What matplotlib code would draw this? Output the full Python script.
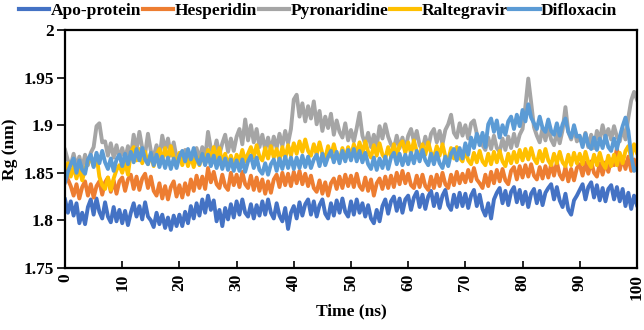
import matplotlib
matplotlib.use('Agg')
import matplotlib.pyplot as plt
import numpy as np

# Time axis: 0 .. 100 ns, every 0.5 ns
time_ns = np.arange(201) * 0.5

apo_protein = [
    1.822, 1.808, 1.820, 1.805, 1.818, 1.797, 1.808, 1.796, 1.814, 1.822, 1.806, 1.823, 1.809, 1.802, 1.819, 1.804, 1.798, 1.814, 1.799, 1.811,
    1.797, 1.810, 1.795, 1.808, 1.818, 1.804, 1.815, 1.801, 1.819, 1.804, 1.800, 1.793, 1.808, 1.796, 1.806, 1.792, 1.803, 1.790, 1.805, 1.794,
    1.806, 1.794, 1.809, 1.797, 1.815, 1.802, 1.818, 1.805, 1.822, 1.808, 1.826, 1.811, 1.821, 1.799, 1.811, 1.794, 1.813, 1.801, 1.817, 1.803,
    1.820, 1.806, 1.822, 1.808, 1.804, 1.817, 1.802, 1.816, 1.805, 1.820, 1.806, 1.822, 1.808, 1.802, 1.818, 1.805, 1.799, 1.813, 1.791, 1.808,
    1.815, 1.802, 1.819, 1.805, 1.817, 1.822, 1.806, 1.820, 1.804, 1.816, 1.822, 1.807, 1.802, 1.818, 1.805, 1.821, 1.808, 1.823, 1.809, 1.804,
    1.820, 1.806, 1.822, 1.808, 1.818, 1.804, 1.816, 1.802, 1.797, 1.811, 1.799, 1.815, 1.822, 1.807, 1.820, 1.825, 1.810, 1.823, 1.808, 1.822,
    1.826, 1.811, 1.824, 1.830, 1.814, 1.827, 1.812, 1.825, 1.831, 1.815, 1.828, 1.813, 1.826, 1.832, 1.816, 1.811, 1.827, 1.814, 1.829, 1.815,
    1.828, 1.813, 1.826, 1.832, 1.815, 1.827, 1.812, 1.805, 1.818, 1.802, 1.822, 1.829, 1.834, 1.818, 1.831, 1.816, 1.830, 1.835, 1.819, 1.832,
    1.817, 1.830, 1.814, 1.828, 1.833, 1.818, 1.831, 1.816, 1.829, 1.834, 1.838, 1.822, 1.835, 1.821, 1.814, 1.828, 1.811, 1.806, 1.821, 1.826,
    1.832, 1.838, 1.822, 1.835, 1.840, 1.824, 1.837, 1.821, 1.834, 1.820, 1.833, 1.837, 1.822, 1.835, 1.820, 1.833, 1.815, 1.829, 1.812, 1.826,
    1.816,
]

hesperidin = [
    1.854, 1.843, 1.836, 1.826, 1.838, 1.823, 1.835, 1.841, 1.826, 1.838, 1.824, 1.836, 1.841, 1.827, 1.840, 1.845, 1.830, 1.842, 1.828, 1.841,
    1.845, 1.831, 1.843, 1.848, 1.833, 1.846, 1.832, 1.844, 1.849, 1.834, 1.846, 1.831, 1.826, 1.839, 1.823, 1.836, 1.822, 1.835, 1.841, 1.825,
    1.837, 1.824, 1.839, 1.827, 1.843, 1.831, 1.847, 1.834, 1.846, 1.833, 1.855, 1.840, 1.851, 1.838, 1.834, 1.848, 1.836, 1.832, 1.850, 1.837,
    1.848, 1.835, 1.851, 1.838, 1.834, 1.847, 1.832, 1.845, 1.831, 1.843, 1.828, 1.841, 1.829, 1.843, 1.848, 1.835, 1.850, 1.837, 1.849, 1.836,
    1.851, 1.839, 1.852, 1.838, 1.849, 1.836, 1.847, 1.834, 1.830, 1.842, 1.828, 1.840, 1.826, 1.839, 1.844, 1.833, 1.846, 1.834, 1.848, 1.836,
    1.847, 1.835, 1.849, 1.836, 1.832, 1.845, 1.831, 1.843, 1.826, 1.839, 1.844, 1.833, 1.846, 1.834, 1.847, 1.835, 1.850, 1.838, 1.852, 1.839,
    1.849, 1.837, 1.834, 1.847, 1.835, 1.848, 1.836, 1.832, 1.846, 1.834, 1.848, 1.836, 1.850, 1.838, 1.834, 1.848, 1.837, 1.851, 1.839, 1.849,
    1.840, 1.853, 1.841, 1.855, 1.843, 1.839, 1.834, 1.848, 1.836, 1.851, 1.839, 1.853, 1.841, 1.854, 1.842, 1.838, 1.852, 1.856, 1.843, 1.857,
    1.845, 1.858, 1.846, 1.859, 1.847, 1.843, 1.856, 1.844, 1.857, 1.845, 1.859, 1.847, 1.861, 1.848, 1.843, 1.856, 1.841, 1.854, 1.842, 1.855,
    1.859, 1.847, 1.861, 1.849, 1.862, 1.850, 1.846, 1.860, 1.848, 1.861, 1.851, 1.864, 1.858, 1.876, 1.853, 1.866, 1.854, 1.867, 1.852, 1.864,
    1.856,
]

pyronaridine = [
    1.874, 1.863, 1.858, 1.870, 1.856, 1.867, 1.855, 1.869, 1.858, 1.871, 1.877, 1.899, 1.902, 1.882, 1.883, 1.868, 1.881, 1.866, 1.879, 1.865,
    1.876, 1.864, 1.878, 1.866, 1.890, 1.874, 1.893, 1.876, 1.870, 1.891, 1.873, 1.867, 1.879, 1.865, 1.889, 1.874, 1.886, 1.868, 1.882, 1.866,
    1.869, 1.861, 1.874, 1.862, 1.868, 1.860, 1.876, 1.864, 1.877, 1.865, 1.893, 1.875, 1.870, 1.884, 1.869, 1.881, 1.890, 1.872, 1.886, 1.873,
    1.888, 1.896, 1.880, 1.906, 1.884, 1.900, 1.882, 1.896, 1.877, 1.890, 1.874, 1.887, 1.873, 1.888, 1.876, 1.891, 1.878, 1.894, 1.881, 1.896,
    1.927, 1.932, 1.909, 1.923, 1.904, 1.920, 1.907, 1.925, 1.901, 1.915, 1.894, 1.909, 1.897, 1.912, 1.890, 1.905, 1.893, 1.887, 1.902, 1.884,
    1.895, 1.883, 1.897, 1.913, 1.889, 1.880, 1.892, 1.877, 1.890, 1.878, 1.899, 1.886, 1.901, 1.888, 1.880, 1.875, 1.889, 1.876, 1.887, 1.874,
    1.889, 1.896, 1.883, 1.894, 1.879, 1.874, 1.888, 1.876, 1.891, 1.896, 1.882, 1.894, 1.880, 1.895, 1.901, 1.911, 1.892, 1.887, 1.902, 1.889,
    1.900, 1.886, 1.902, 1.905, 1.891, 1.885, 1.879, 1.874, 1.887, 1.875, 1.889, 1.876, 1.872, 1.886, 1.874, 1.888, 1.876, 1.891, 1.878, 1.890,
    1.896, 1.920, 1.949, 1.924, 1.898, 1.889, 1.882, 1.897, 1.884, 1.898, 1.885, 1.879, 1.893, 1.881, 1.895, 1.919, 1.893, 1.885, 1.897, 1.883,
    1.887, 1.880, 1.892, 1.877, 1.890, 1.876, 1.894, 1.884, 1.900, 1.887, 1.896, 1.885, 1.899, 1.888, 1.883, 1.897, 1.885, 1.908, 1.926, 1.935,
    1.927,
]

raltegravir = [
    1.855, 1.860, 1.846, 1.857, 1.844, 1.855, 1.842, 1.854, 1.861, 1.866, 1.857, 1.869, 1.846, 1.837, 1.833, 1.845, 1.832, 1.844, 1.853, 1.858,
    1.850, 1.861, 1.848, 1.871, 1.877, 1.863, 1.875, 1.860, 1.872, 1.859, 1.870, 1.857, 1.869, 1.875, 1.863, 1.876, 1.865, 1.878, 1.866, 1.861,
    1.871, 1.858, 1.869, 1.857, 1.868, 1.856, 1.867, 1.858, 1.870, 1.859, 1.874, 1.863, 1.877, 1.865, 1.876, 1.859, 1.870, 1.857, 1.868, 1.856,
    1.869, 1.862, 1.874, 1.862, 1.870, 1.877, 1.866, 1.879, 1.867, 1.863, 1.876, 1.865, 1.878, 1.866, 1.875, 1.863, 1.877, 1.865, 1.879, 1.868,
    1.881, 1.870, 1.883, 1.872, 1.885, 1.873, 1.868, 1.880, 1.869, 1.882, 1.870, 1.865, 1.878, 1.867, 1.880, 1.868, 1.863, 1.876, 1.865, 1.877,
    1.867, 1.880, 1.869, 1.882, 1.870, 1.883, 1.872, 1.866, 1.879, 1.868, 1.881, 1.869, 1.865, 1.877, 1.867, 1.880, 1.868, 1.879, 1.883, 1.871,
    1.882, 1.870, 1.884, 1.872, 1.867, 1.880, 1.869, 1.882, 1.871, 1.866, 1.878, 1.868, 1.880, 1.867, 1.863, 1.876, 1.865, 1.877, 1.866, 1.862,
    1.874, 1.863, 1.859, 1.871, 1.861, 1.873, 1.862, 1.858, 1.870, 1.859, 1.872, 1.861, 1.873, 1.862, 1.857, 1.870, 1.860, 1.872, 1.861, 1.874,
    1.863, 1.875, 1.864, 1.876, 1.865, 1.860, 1.873, 1.862, 1.875, 1.863, 1.858, 1.870, 1.860, 1.872, 1.861, 1.857, 1.869, 1.858, 1.871, 1.860,
    1.870, 1.859, 1.872, 1.861, 1.856, 1.869, 1.858, 1.871, 1.860, 1.855, 1.868, 1.857, 1.869, 1.858, 1.871, 1.860, 1.873, 1.878, 1.866, 1.880,
    1.871,
]

difloxacin = [
    1.840, 1.851, 1.859, 1.865, 1.850, 1.863, 1.853, 1.849, 1.864, 1.869, 1.856, 1.871, 1.860, 1.873, 1.861, 1.854, 1.865, 1.852, 1.864, 1.869,
    1.857, 1.870, 1.859, 1.872, 1.861, 1.875, 1.863, 1.876, 1.864, 1.859, 1.871, 1.858, 1.869, 1.856, 1.867, 1.855, 1.866, 1.854, 1.865, 1.855,
    1.867, 1.873, 1.862, 1.875, 1.864, 1.876, 1.865, 1.859, 1.870, 1.858, 1.869, 1.857, 1.868, 1.855, 1.866, 1.854, 1.865, 1.853, 1.864, 1.852,
    1.863, 1.852, 1.864, 1.851, 1.862, 1.868, 1.855, 1.866, 1.853, 1.849, 1.860, 1.848, 1.859, 1.864, 1.852, 1.865, 1.854, 1.867, 1.855, 1.866,
    1.854, 1.866, 1.855, 1.868, 1.856, 1.867, 1.855, 1.864, 1.869, 1.857, 1.870, 1.858, 1.867, 1.873, 1.861, 1.872, 1.860, 1.873, 1.862, 1.874,
    1.863, 1.875, 1.862, 1.873, 1.861, 1.871, 1.859, 1.854, 1.866, 1.853, 1.865, 1.855, 1.867, 1.854, 1.866, 1.871, 1.859, 1.870, 1.858, 1.869,
    1.859, 1.871, 1.860, 1.873, 1.862, 1.874, 1.863, 1.858, 1.870, 1.859, 1.871, 1.860, 1.855, 1.867, 1.857, 1.870, 1.875, 1.863, 1.876, 1.865,
    1.881, 1.869, 1.887, 1.876, 1.891, 1.879, 1.892, 1.877, 1.901, 1.907, 1.893, 1.905, 1.887, 1.900, 1.890, 1.904, 1.909, 1.896, 1.911, 1.899,
    1.916, 1.904, 1.922, 1.908, 1.902, 1.896, 1.909, 1.897, 1.893, 1.906, 1.894, 1.890, 1.902, 1.889, 1.901, 1.907, 1.893, 1.887, 1.900, 1.888,
    1.889, 1.877, 1.891, 1.879, 1.875, 1.887, 1.874, 1.886, 1.876, 1.889, 1.877, 1.873, 1.886, 1.875, 1.888, 1.899, 1.908, 1.894, 1.868, 1.852,
    1.855,
]

series_names = ['Apo-protein', 'Hesperidin', 'Pyronaridine', 'Raltegravir', 'Difloxacin']
series_values = [apo_protein, hesperidin, pyronaridine, raltegravir, difloxacin]
series_colors = ['#4472C4', '#ED7D31', '#A5A5A5', '#FFC000', '#5B9BD5']

x_ticks = list(range(0, 101, 10))
y_ticks = [1.75, 1.8, 1.85, 1.9, 1.95, 2.0]
y_tick_labels = ['1.75', '1.8', '1.85', '1.9', '1.95', '2']

plt.rcParams['font.family'] = ['Liberation Serif', 'DejaVu Serif']
plt.rcParams['font.weight'] = 'bold'

FS = 12.5

fig = plt.figure(figsize=(6.44, 3.30), dpi=100)
ax = fig.add_axes([0.101, 0.188, 0.888, 0.721])

for name, vals, col in zip(series_names, series_values, series_colors):
    ax.plot(time_ns, vals, color=col, lw=2.8, label=name)

ax.set_xlim(0, 100)
ax.set_ylim(1.75, 2.0)
ax.set_xticks(x_ticks)
ax.set_xticklabels([str(v) for v in x_ticks], rotation=90, fontsize=FS, fontweight='bold')
ax.set_yticks(y_ticks)
ax.set_yticklabels(y_tick_labels, fontsize=FS, fontweight='bold')
ax.tick_params(axis='x', direction='in', length=5, width=1.2, pad=4)
ax.tick_params(axis='y', direction='out', length=6, width=1.2, pad=2)
for sp in ax.spines.values():
    sp.set_linewidth(1.6)
    sp.set_color('black')

ax.set_xlabel('Time (ns)', fontsize=FS, fontweight='bold', labelpad=3)
ax.set_ylabel('Rg (nm)', fontsize=FS, fontweight='bold')
ax.yaxis.set_label_coords(-0.083, 0.5)

leg = fig.legend(loc='center', bbox_to_anchor=(0.494, 0.968), ncol=5, frameon=False,
                 handlelength=1.75, handletextpad=0.08, columnspacing=0.1,
                 prop={'size': FS, 'weight': 'bold'})
for ln in leg.get_lines():
    ln.set_linewidth(3)

fig.savefig('out.png', dpi=100)
